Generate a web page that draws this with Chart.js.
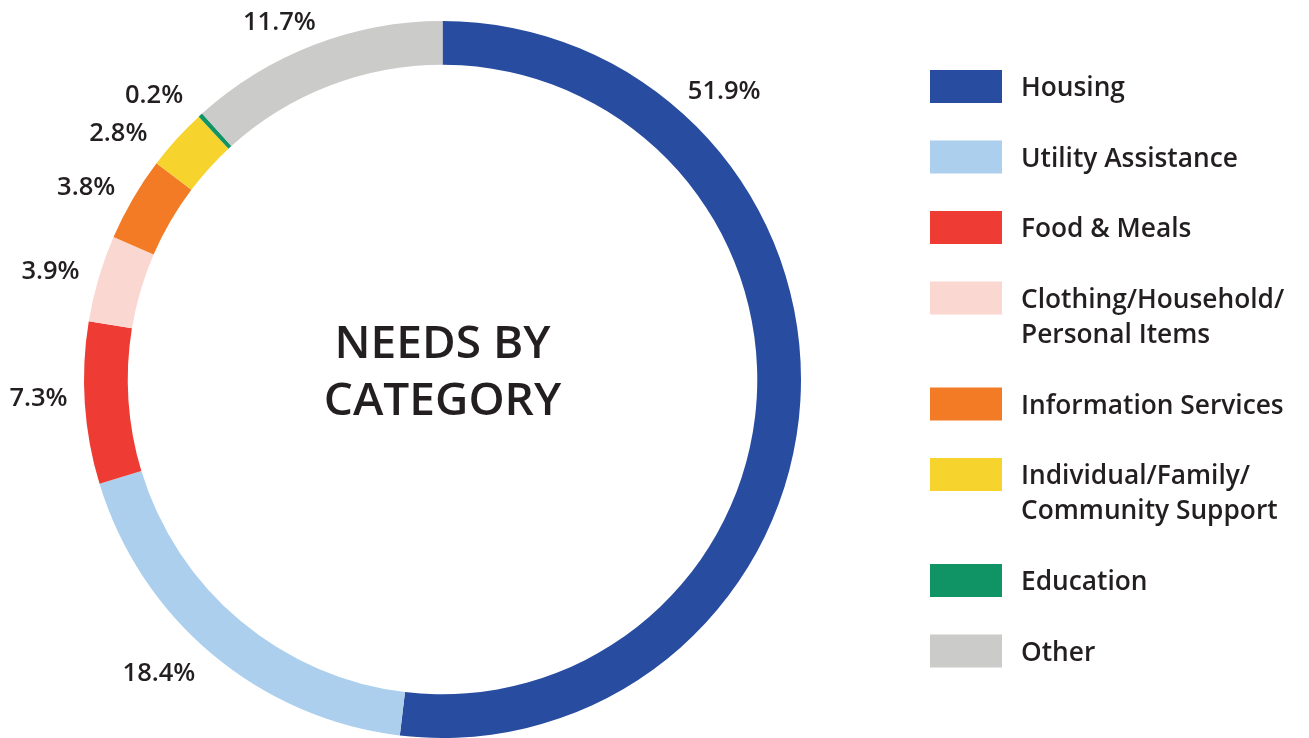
<!DOCTYPE html>
<html><head><meta charset="utf-8">
<script src="https://cdn.jsdelivr.net/npm/chart.js@4"></script>
<style>html,body{margin:0;padding:0;background:#fff;}#wrap{width:1309px;height:738px;position:relative;}</style>
</head><body><div id="wrap"><canvas id="c" width="1309" height="738"></canvas></div>
<script>
const categories = ["Housing","Utility Assistance","Food & Meals","Clothing/Household/Personal Items","Information Services","Individual/Family/Community Support","Education","Other"];
const legendLines = [["Housing"],["Utility Assistance"],["Food & Meals"],["Clothing/Household/","Personal Items"],["Information Services"],["Individual/Family/","Community Support"],["Education"],["Other"]];
const values = [51.9,18.4,7.3,3.9,3.8,2.8,0.2,11.7];
const valueLabels = ["51.9%","18.4%","7.3%","3.9%","3.8%","2.8%","0.2%","11.7%"];
const colors = ["#284ca0","#abcfec","#ee3b33","#fbd7d1","#f37b26","#f7d32d","#109466","#cbcbca"];
const centerTitle = ["NEEDS BY","CATEGORY"];

const TXT = "#231f20";
const FONT = "'Open Sans', 'Noto Sans', sans-serif";

const labelPlugin = {
  id: 'outLabels',
  afterDatasetsDraw(chart, args, opts) {
    const ctx = chart.ctx;
    const meta = chart.getDatasetMeta(0);
    ctx.save();
    ctx.fillStyle = TXT;
    ctx.font = "600 25.5px " + FONT;
    ctx.textAlign = 'center';
    ctx.textBaseline = 'middle';
    meta.data.forEach((arc, i) => {
      const p = arc.getProps(['x','y','startAngle','endAngle','outerRadius'], true);
      const mid = (p.startAngle + p.endAngle) / 2 + (opts.angleOffsets[i] || 0) * Math.PI / 180;
      const r = p.outerRadius + (opts.radiusOffsets[i] !== undefined ? opts.radiusOffsets[i] : 46);
      ctx.fillText(valueLabels[i], p.x + Math.cos(mid) * r, p.y + Math.sin(mid) * r);
    });
    const a0 = meta.data[0];
    ctx.font = "600 46px " + FONT;
    ctx.fillText(centerTitle[0], a0.x, a0.y - 35);
    ctx.fillText(centerTitle[1], a0.x, a0.y + 22);
    ctx.restore();
  }
};

const legendPlugin = {
  id: 'sideLegend',
  afterDraw(chart, args, opts) {
    const ctx = chart.ctx;
    ctx.save();
    let y = opts.top;
    ctx.textBaseline = 'middle';
    ctx.textAlign = 'left';
    ctx.font = "600 26.3px " + FONT;
    legendLines.forEach((lines, i) => {
      ctx.fillStyle = colors[i];
      ctx.fillRect(opts.left, y - 16, 72, 33);
      ctx.fillStyle = TXT;
      lines.forEach((t, j) => ctx.fillText(t, opts.left + 91, y + 3 + j * 35));
      y += 70.5 + (lines.length - 1) * 35.5;
    });
    ctx.restore();
  }
};

new Chart(document.getElementById('c'), {
  type: 'doughnut',
  data: {
    labels: categories,
    datasets: [{ data: values, backgroundColor: colors, borderWidth: 0, hoverOffset: 0 }]
  },
  options: {
    responsive: false,
    animation: false,
    cutout: '87.8%',
    layout: { padding: { left: 84, right: 508, top: 21, bottom: 0 } },
    plugins: {
      legend: { display: false },
      tooltip: { enabled: false },
      outLabels: { angleOffsets: [-49, 4, 1, -1, -2, -5, -3, -3.5], radiusOffsets: [44, 50, 46, 48, 46, 48, 46, 34] },
      sideLegend: { left: 930, top: 86 }
    }
  },
  plugins: [labelPlugin, legendPlugin]
});
</script></body></html>
